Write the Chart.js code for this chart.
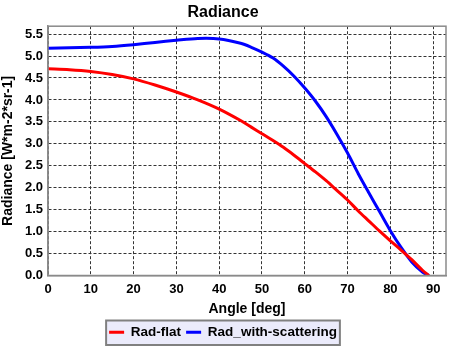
<!DOCTYPE html>
<html>
<head>
<meta charset="utf-8">
<script src="https://cdn.jsdelivr.net/npm/chart.js@4"></script>
<style>
  html, body { margin: 0; padding: 0; background: #fff; }
  #wrap { width: 456px; height: 353px; }
</style>
</head>
<body>
<div id="wrap"><canvas id="chart" width="456" height="353"></canvas></div>
<script>
const angles = [0, 5, 10, 15, 20, 25, 30, 35, 40, 45, 47.5, 50, 52.5, 55, 57.5, 60, 62.5, 65, 67.5, 70, 72.5, 75, 77.5, 80, 82.5, 85, 87.5, 89];
const radFlat = [4.71, 4.69, 4.65, 4.58, 4.48, 4.34, 4.18, 4.00, 3.79, 3.53, 3.38, 3.23, 3.08, 2.92, 2.74, 2.55, 2.36, 2.16, 1.94, 1.72, 1.47, 1.24, 1.01, 0.79, 0.58, 0.36, 0.12, 0.0];
const radScatter = [5.18, 5.19, 5.20, 5.22, 5.26, 5.31, 5.36, 5.40, 5.39, 5.29, 5.20, 5.09, 4.96, 4.77, 4.54, 4.27, 3.97, 3.62, 3.22, 2.79, 2.32, 1.88, 1.45, 1.02, 0.64, 0.31, 0.08, 0.0];
const xTicks = [0, 10, 20, 30, 40, 50, 60, 70, 80, 90];
const yTicks = [0, 0.5, 1, 1.5, 2, 2.5, 3, 3.5, 4, 4.5, 5, 5.5];

const ctx = document.getElementById("chart");
const font = "'Liberation Sans', Arial, sans-serif";
Chart.defaults.font.family = font;
Chart.defaults.color = "#000";

function points(ys) {
    return angles.map((a, i) => ({ x: a, y: ys[i] }));
}

// white page, frame round the plot area, box behind the legend
const framePlugin = {
    id: "frame",
    beforeDraw(chart) {
        const c = chart.ctx;
        c.save();
        c.fillStyle = "#fff";
        c.fillRect(0, 0, chart.width, chart.height);
        const boxes = chart.legend.legendHitBoxes;
        if (boxes && boxes.length) {
            const first = boxes[0];
            const last = boxes[boxes.length - 1];
            const x0 = first.left - 3;
            const x1 = last.left + last.width + 3;
            const y0 = first.top - 5;
            const y1 = first.top + first.height + 6;
            c.fillStyle = "#ebebfb";
            c.fillRect(x0, y0, x1 - x0, y1 - y0);
            c.strokeStyle = "#808080";
            c.lineWidth = 2;
            c.strokeRect(x0, y0, x1 - x0, y1 - y0);
        }
        c.restore();
    },
    afterDatasetsDraw(chart) {
        const a = chart.chartArea;
        const c = chart.ctx;
        c.save();
        c.strokeStyle = "#8a8a8a";
        c.lineWidth = 1.5;
        c.strokeRect(a.left, a.top, a.right - a.left, a.bottom - a.top);
        c.restore();
    }
};

new Chart(ctx, {
    type: "line",
    data: {
        datasets: [
            {
                label: "Rad-flat",
                data: points(radFlat),
                borderColor: "#ff0000",
                backgroundColor: "#ff0000",
                borderWidth: 3,
                pointRadius: 0,
                tension: 0.3,
            },
            {
                label: "Rad_with-scattering",
                data: points(radScatter),
                borderColor: "#0000ff",
                backgroundColor: "#0000ff",
                borderWidth: 3,
                pointRadius: 0,
                tension: 0.3,
            },
        ],
    },
    options: {
        responsive: false,
        animation: false,
        layout: { padding: { left: 0, right: 10, top: 3, bottom: 4 } },
        plugins: {
            title: {
                display: true,
                text: "Radiance",
                font: { size: 16, weight: "bold" },
                color: "#000",
                padding: { top: 0, bottom: 4 },
            },
            legend: {
                position: "bottom",
                labels: {
                    usePointStyle: true,
                    pointStyle: "line",
                    pointStyleWidth: 15,
                    boxHeight: 13,
                    padding: 5,
                    font: { size: 13.5, weight: "bold" },
                    color: "#000",
                },
            },
            tooltip: { enabled: false },
        },
        scales: {
            x: {
                type: "linear",
                min: 0,
                max: 93,
                afterBuildTicks: (s) => { s.ticks = xTicks.map((v) => ({ value: v })); },
                afterFit: (s) => { s.height = 45; },
                ticks: { font: { size: 13, weight: "bold" }, padding: 6, maxRotation: 0 },
                grid: { color: "#333", borderDash: [3, 2], drawTicks: false },
                border: { color: "#8a8a8a", width: 1.5, dash: [3, 2] },
                title: {
                    display: true,
                    text: "Angle [deg]",
                    font: { size: 14, weight: "bold" },
                    padding: { top: 2, bottom: 3 },
                },
            },
            y: {
                min: 0,
                max: 5.68,
                afterBuildTicks: (s) => { s.ticks = yTicks.map((v) => ({ value: v })); },
                afterFit: (s) => { s.width = 48; },
                ticks: {
                    font: { size: 13, weight: "bold" },
                    padding: 5,
                    callback: (v) => v.toFixed(1),
                },
                grid: { color: "#333", borderDash: [3, 2], drawTicks: false },
                border: { color: "#8a8a8a", width: 1.5, dash: [3, 2] },
                title: {
                    display: true,
                    text: "Radiance [W*m-2*sr-1]",
                    font: { size: 14, weight: "bold" },
                    padding: { top: 0, bottom: 1 },
                },
            },
        },
    },
    plugins: [framePlugin],
});
</script>
</body>
</html>
